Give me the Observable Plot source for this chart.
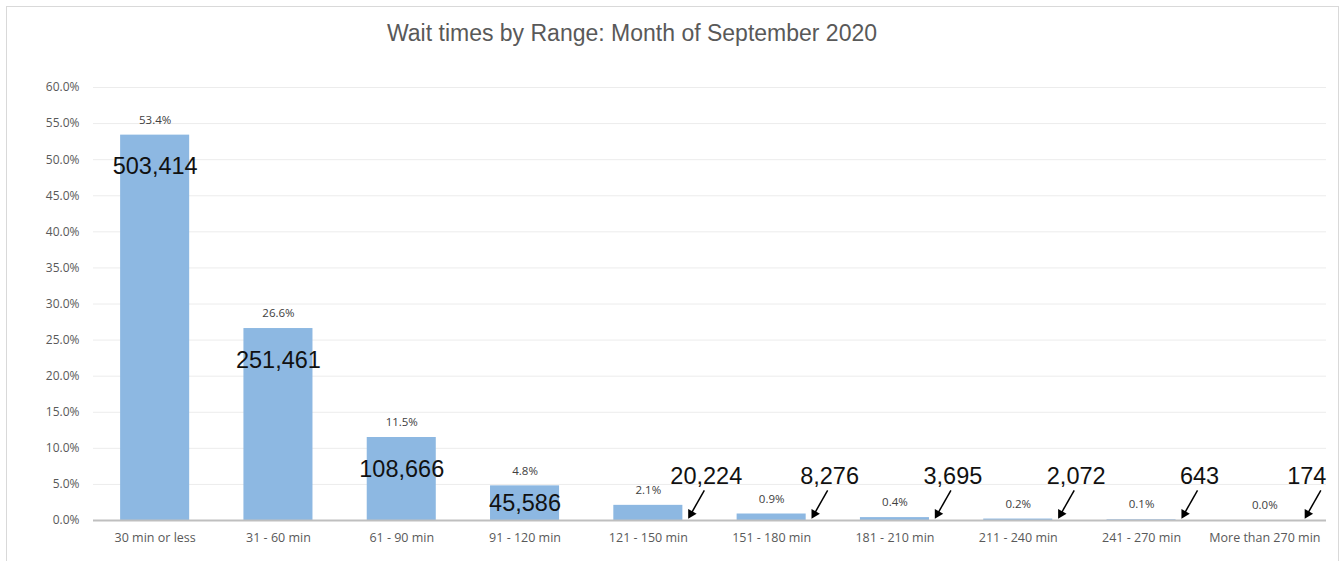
<!DOCTYPE html>
<html>
<head>
<meta charset="utf-8">
<script src="https://cdn.jsdelivr.net/npm/d3@7"></script>
<script src="https://cdn.jsdelivr.net/npm/@observablehq/plot@0.6"></script>
<style>
  html, body { margin: 0; padding: 0; background: #fff; overflow: hidden; }
  #frame { position: absolute; left: 6px; top: 6px; width: 1331px; height: 600px;
           border: 1px solid #d9d9d9; border-bottom: none; pointer-events: none; }
  #title { height: 60px; line-height: 66px; text-align: center; padding-right: 76px;
           font-family: "Liberation Sans", Arial, sans-serif; font-size: 23px; color: #595959; }
  #chart { position: absolute; left: 0; top: 60px; }
</style>
</head>
<body>
<div id="frame"></div>
<div id="title">Wait times by Range: Month of September 2020</div>
<div id="chart"></div>
<script>
const categories = ["30 min or less", "31 - 60 min", "61 - 90 min", "91 - 120 min", "121 - 150 min",
  "151 - 180 min", "181 - 210 min", "211 - 240 min", "241 - 270 min", "More than 270 min"];
const percents = [53.4, 26.6, 11.5, 4.8, 2.1, 0.9, 0.4, 0.2, 0.1, 0.0];
const counts = [503414, 251461, 108666, 45586, 20224, 8276, 3695, 2072, 643, 174];
const yTicks = [0, 5, 10, 15, 20, 25, 30, 35, 40, 45, 50, 55, 60];

const data = categories.map((c, i) => ({i, category: c, pct: percents[i], count: counts[i]}));
const inside = data.filter(d => d.pct >= 4);
const outside = data.filter(d => d.pct < 4);
const fmt = d3.format(",");

const chart = Plot.plot({
  width: 1340,
  height: 501,
  marginLeft: 93,
  marginRight: 14,
  marginTop: 27,
  marginBottom: 41,
  style: {fontFamily: "'Open Sans', sans-serif", background: "transparent"},
  x: {domain: [-0.5, 9.5], axis: null},
  y: {domain: [0, 60], axis: null},
  marks: [
    Plot.ruleY(yTicks.filter(t => t > 0), {stroke: "#ececec", strokeWidth: 1}),
    Plot.axisY({ticks: yTicks, tickFormat: d => d.toFixed(1) + "%", tickSize: 0, tickPadding: 14,
      fontSize: 12, fill: "#595959", label: null}),
    Plot.axisX({ticks: data.map(d => d.i), tickFormat: i => categories[i], tickSize: 0, tickPadding: 13,
      fontSize: 12.5, fill: "#595959", label: null}),
    Plot.rectY(data, {x1: d => d.i - 0.28, x2: d => d.i + 0.28, y: "pct", fill: "#8db8e2"}),
    Plot.ruleY([0], {stroke: "#bfbfbf", strokeWidth: 2}),
    Plot.text(data, {x: "i", y: "pct", text: d => d.pct.toFixed(1) + "%", dy: -15,
      fontSize: 11.5, fill: "#404040"}),
    Plot.text(inside, {x: "i", y: d => Math.max(d.pct - 4.4, 2.3), text: d => fmt(d.count),
      fontSize: 23.5, fill: "#111", fontFamily: "'Liberation Sans', Arial, sans-serif"}),
    Plot.text(outside, {x: d => Math.min(d.i + 0.47, 9.34), y: d => 6.1, text: d => fmt(d.count),
      fontSize: 23.5, fill: "#111", fontFamily: "'Liberation Sans', Arial, sans-serif"}),
    Plot.link(outside, {x1: d => d.i + 0.454, y1: d => 4.16, x2: d => d.i + 0.346, y2: d => 0.93,
      stroke: "#000", strokeWidth: 1.5}),
    Plot.dot(outside, {x: d => d.i + 0.346, y: d => 0.93, symbol: "triangle", r: 3.6,
      fill: "#000", stroke: "none", rotate: 210})
  ]
});
document.getElementById("chart").appendChild(chart);
</script>
</body>
</html>
